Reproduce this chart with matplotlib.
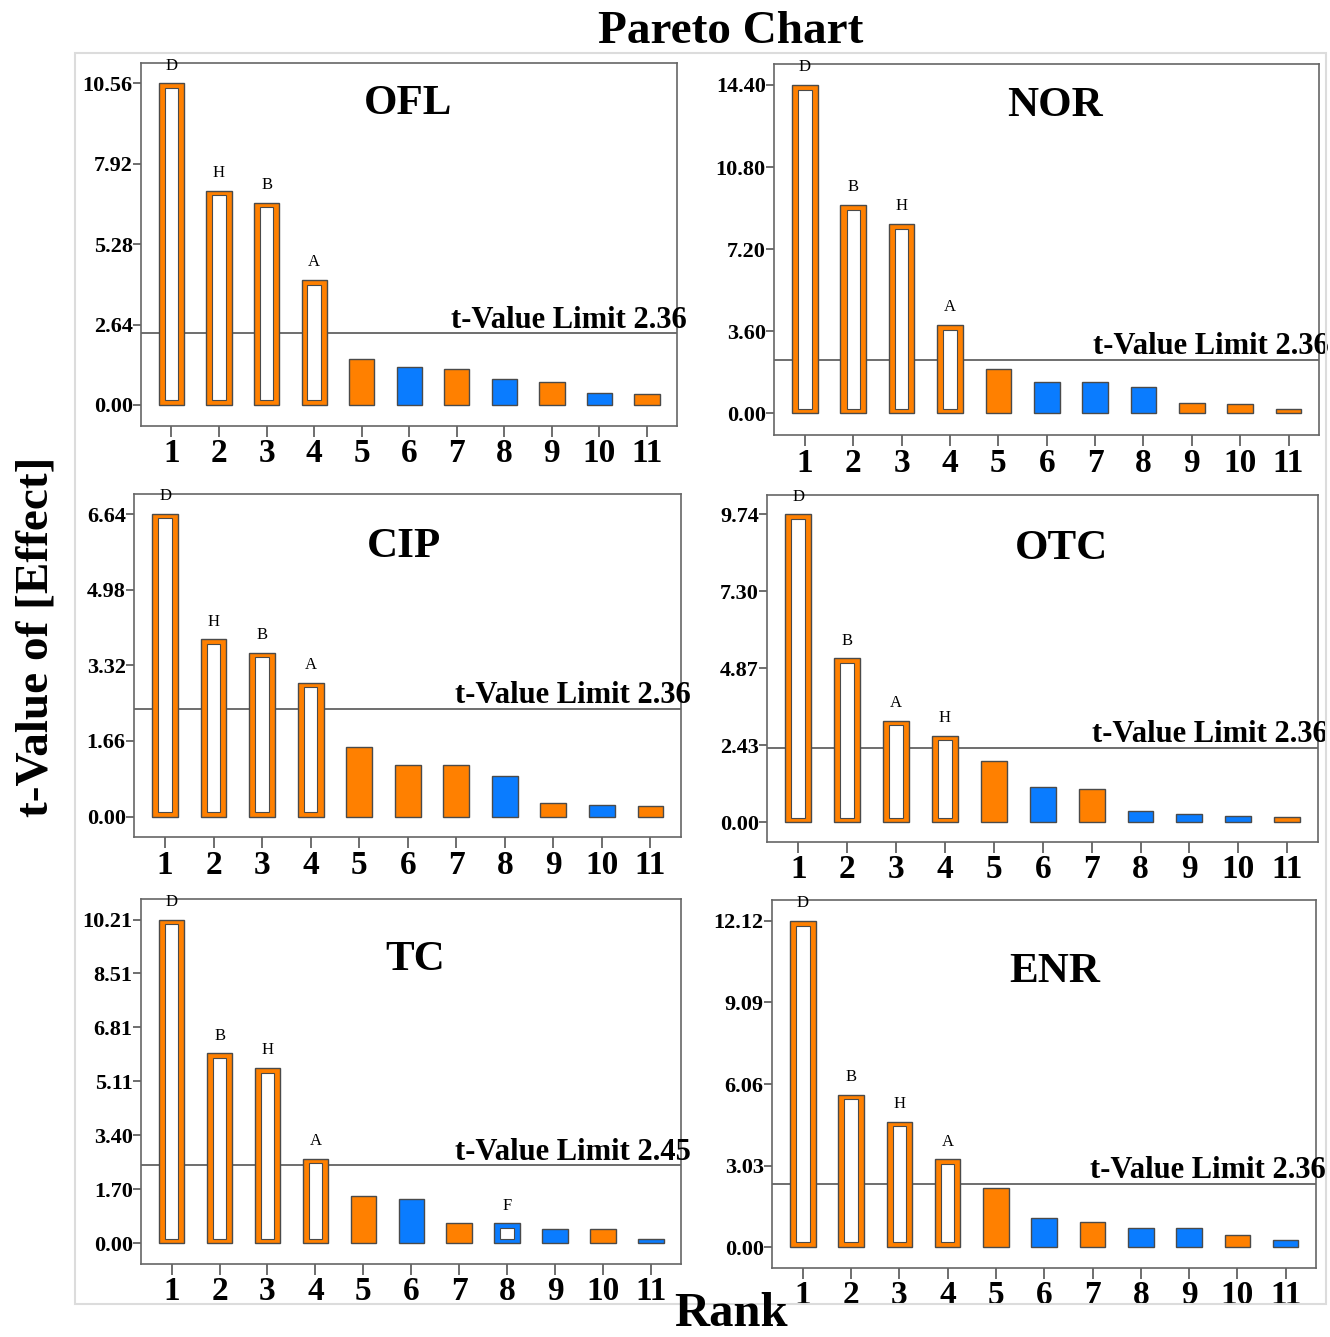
#!/usr/bin/env python3
"""Pareto charts of t-values for six antibiotics (3x2 grid)."""
import numpy as np
import matplotlib
matplotlib.use("Agg")
import matplotlib.pyplot as plt
import matplotlib.transforms as mtransforms
from matplotlib.patches import Rectangle

plt.rcParams["font.family"] = ["Liberation Serif", "DejaVu Serif"]

ORANGE = "#FF8000"
BLUE = "#0A7CFF"
EDGE = "#4a4a4a"

ranks = list(range(1, 12))
panel_names = ["OFL", "NOR", "CIP", "OTC", "TC", "ENR"]

ofl_t = [10.56, 7.03, 6.64, 4.10, 1.50, 1.24, 1.17, 0.85, 0.74, 0.38, 0.35]
nor_t = [14.40, 9.14, 8.30, 3.87, 1.94, 1.37, 1.37, 1.17, 0.44, 0.39, 0.18]
cip_t = [6.64, 3.89, 3.60, 2.93, 1.53, 1.14, 1.12, 0.89, 0.30, 0.25, 0.23]
otc_t = [9.74, 5.18, 3.20, 2.72, 1.93, 1.11, 1.05, 0.34, 0.26, 0.19, 0.15]
tc_t = [10.21, 5.99, 5.52, 2.66, 1.48, 1.38, 0.62, 0.62, 0.46, 0.44, 0.14]
enr_t = [12.12, 5.66, 4.66, 3.26, 2.18, 1.09, 0.93, 0.72, 0.69, 0.43, 0.27]

# o = positive effect (orange), b = negative effect (blue)
ofl_sign = "ooooobobobo"
nor_sign = "ooooobbbooo"
cip_sign = "ooooooobobo"
otc_sign = "ooooobobbbo"
tc_sign = "ooooobobbob"
enr_sign = "ooooobobbob"

ofl_terms = ["D", "H", "B", "A", "", "", "", "", "", "", ""]
nor_terms = ["D", "B", "H", "A", "", "", "", "", "", "", ""]
cip_terms = ["D", "H", "B", "A", "", "", "", "", "", "", ""]
otc_terms = ["D", "B", "A", "H", "", "", "", "", "", "", ""]
tc_terms = ["D", "B", "H", "A", "", "", "", "F", "", "", ""]
enr_terms = ["D", "B", "H", "A", "", "", "", "", "", "", ""]

t_limits = [2.36, 2.36, 2.36, 2.36, 2.45, 2.36]

ofl_ticks = [0.00, 2.64, 5.28, 7.92, 10.56]
nor_ticks = [0.00, 3.60, 7.20, 10.80, 14.40]
cip_ticks = [0.00, 1.66, 3.32, 4.98, 6.64]
otc_ticks = [0.00, 2.43, 4.87, 7.30, 9.74]
tc_ticks = [0.00, 1.70, 3.40, 5.11, 6.81, 8.51, 10.21]
enr_ticks = [0.00, 3.03, 6.06, 9.09, 12.12]

values = [ofl_t, nor_t, cip_t, otc_t, tc_t, enr_t]
signs = [ofl_sign, nor_sign, cip_sign, otc_sign, tc_sign, enr_sign]
terms = [ofl_terms, nor_terms, cip_terms, otc_terms, tc_terms, enr_terms]
yticks = [ofl_ticks, nor_ticks, cip_ticks, otc_ticks, tc_ticks, enr_ticks]

# layout (pixel boxes in a 1330x1337 canvas: left, right, top, bottom)
W, H = 1330, 1337
boxes = [(141, 677, 63, 426), (774, 1319, 64, 435),
         (134, 681, 494, 837), (767, 1318, 495, 842),
         (141, 681, 899, 1264), (772, 1316, 900, 1268)]
ylims = [(-0.69, 11.23), (-0.95, 15.32), (-0.45, 7.08),
         (-0.63, 10.35), (-0.66, 10.86), (-0.78, 12.90)]
title_pos = [(0.498, 0.887), (0.515, 0.887), (0.494, 0.845),
             (0.535, 0.844), (0.507, 0.833), (0.52, 0.804)]

fig = plt.figure(figsize=(W / 100, H / 100), dpi=100)
fig.patches.append(Rectangle((75 / W, 1 - 1304 / H), (1326 - 75) / W, (1304 - 53) / H,
                             transform=fig.transFigure, fill=False,
                             edgecolor="#dcdcdc", lw=1.5))

for i, name in enumerate(panel_names):
    l, r, t, b = boxes[i]
    ax = fig.add_axes([l / W, 1 - b / H, (r - l) / W, (b - t) / H])
    ymin, ymax = ylims[i]
    gap = 0.0125 * (ymax - ymin)
    vals = values[i]
    for k, (x, v) in enumerate(zip(ranks, vals)):
        c = ORANGE if signs[i][k] == "o" else BLUE
        ax.bar(x, v, width=0.53, color=c, edgecolor=EDGE, lw=1.0, zorder=3)
        if terms[i][k]:
            # hollow bar = significant term
            ax.bar(x, v - 2 * gap, bottom=gap, width=0.28, color="white",
                   edgecolor=EDGE, lw=0.8, zorder=4)
            ax.annotate(terms[i][k], (x, v), xytext=(0, 7), textcoords="offset points",
                        ha="center", va="bottom", fontsize=12, zorder=5,
                        annotation_clip=False)
    ax.axhline(t_limits[i], color="#555555", lw=1.2, zorder=2)
    trans = mtransforms.blended_transform_factory(ax.transAxes, ax.transData)
    ax.annotate(f"t-Value Limit {t_limits[i]:.2f}", (1, t_limits[i]), xycoords=trans,
                xytext=(7, 4), textcoords="offset points", ha="right", va="baseline",
                fontsize=22, fontweight="bold", annotation_clip=False)
    ax.text(title_pos[i][0], title_pos[i][1], name, transform=ax.transAxes,
            ha="center", va="center", fontsize=31, fontweight="bold")

    ax.set_xlim(0.36, 11.63)
    ax.set_ylim(ymin, ymax)
    ax.set_xticks(ranks)
    ax.set_xticklabels([str(x) for x in ranks], fontsize=24, fontweight="bold")
    ax.set_yticks(yticks[i])
    ax.set_yticklabels([f"{y:.2f}" for y in yticks[i]], fontsize=16, fontweight="bold")
    ax.tick_params(axis="x", length=8, width=1.2, color="#555555", pad=1)
    ax.tick_params(axis="y", length=6, width=1.2, color="#555555", pad=0)
    for s in ax.spines.values():
        s.set_color("#666666")
        s.set_linewidth(1.2)

fig.text(731 / W, 1 - 32 / H, "Pareto Chart", ha="center", va="center",
         fontsize=34, fontweight="bold")
fig.text(37 / W, 1 - 637 / H, "t-Value of [Effect]", ha="center", va="center",
         rotation=90, fontsize=34, fontweight="bold")
fig.text(731 / W, 1 - 1314 / H, "Rank", ha="center", va="center",
         fontsize=35, fontweight="bold")

fig.savefig("out.png", dpi=100)
